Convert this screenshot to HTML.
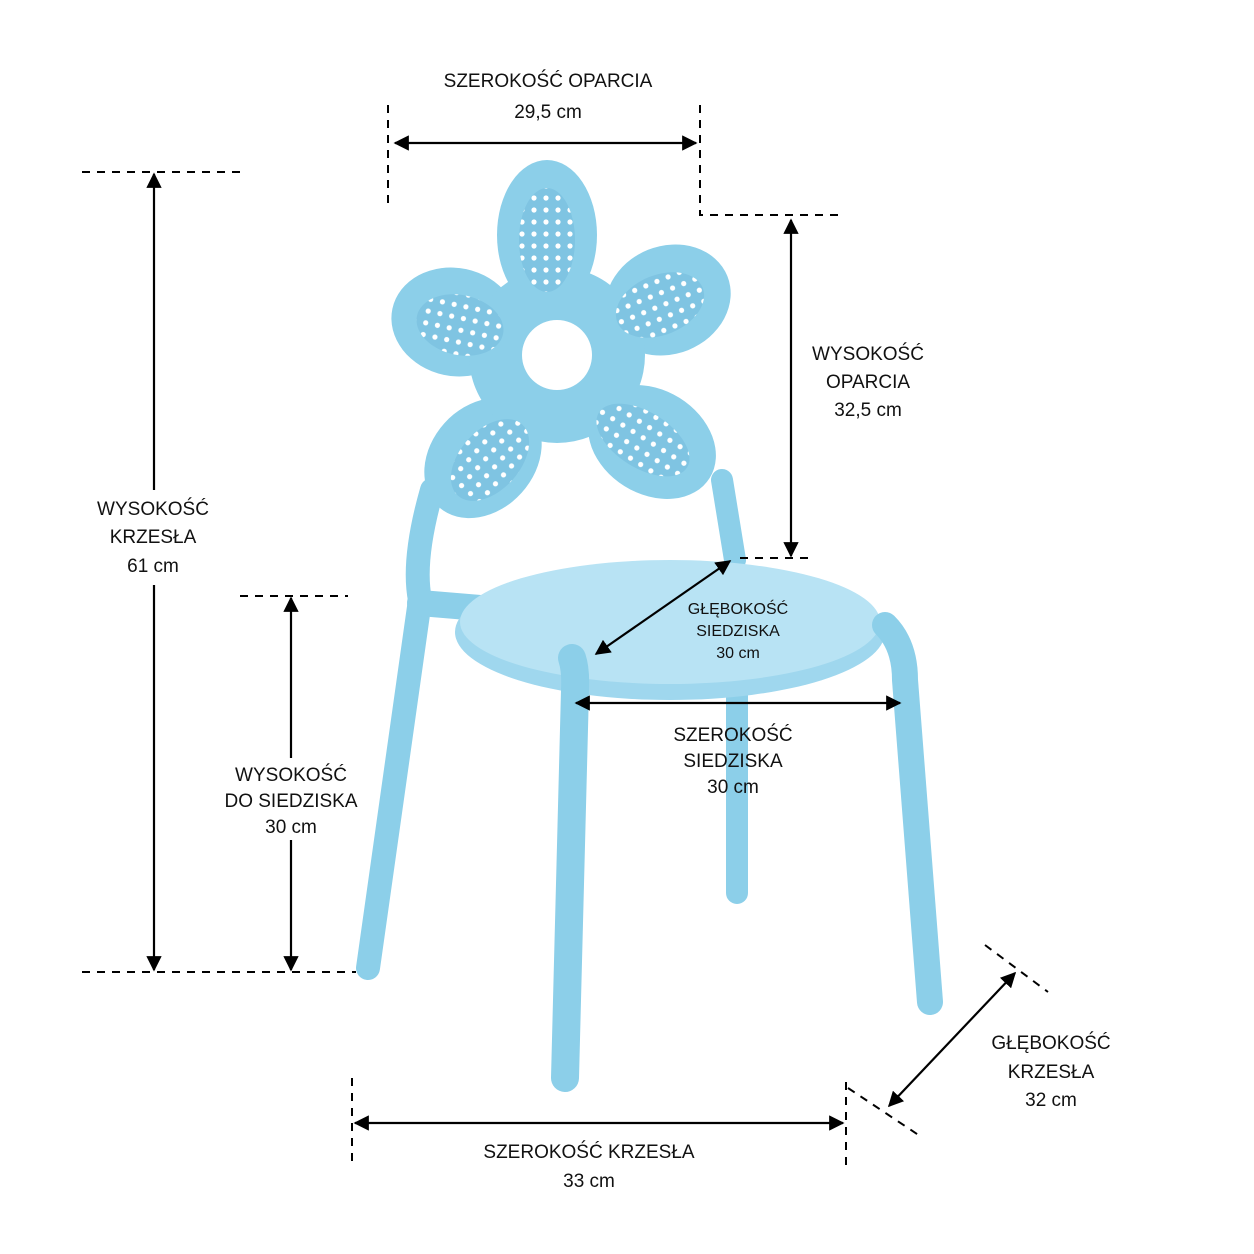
<!DOCTYPE html>
<html><head><meta charset="utf-8"><style>
html,body{margin:0;padding:0;background:#fff}
svg{display:block}
text{font-family:"Liberation Sans","DejaVu Sans",sans-serif;font-size:19px;fill:#111;text-anchor:middle}
.s{font-size:16px}
</style></head><body>
<svg width="1254" height="1254" viewBox="0 0 1254 1254" xmlns="http://www.w3.org/2000/svg">
<defs>
<marker id="a" viewBox="0 0 10 10" refX="9" refY="5" markerWidth="7" markerHeight="7" orient="auto-start-reverse"><path d="M0,0L10,5L0,10z" fill="#000"/></marker>
<pattern id="m" width="12" height="12" patternUnits="userSpaceOnUse"><rect width="12" height="12" fill="#7fc4e2"/><circle cx="6" cy="6" r="2.6" fill="#fff"/></pattern>
</defs>
<g stroke="#8ccfe9" stroke-linecap="round" fill="none">
<path d="M432,490 Q412,560 420,600 L368,968" stroke-width="24"/>
<path d="M722,480 L735,560" stroke-width="22"/>
<path d="M737,690 L737,893" stroke-width="22"/>
<path d="M420,603 L480,608" stroke-width="26"/>
</g>
<ellipse cx="670" cy="632" rx="215" ry="68" fill="#9fd7ee"/>
<ellipse cx="670" cy="622" rx="210" ry="62" fill="#b8e3f4"/>
<g stroke="#8ccfe9" stroke-linecap="round" fill="none">
<path d="M572,658 Q576,670 575,690 L565,1078" stroke-width="28"/>
<path d="M885,625 Q905,645 905,680 L930,1002" stroke-width="26"/>
</g>
<g fill="#8ccfe9">
<ellipse cx="547" cy="235" rx="50" ry="75"/>
<ellipse cx="455" cy="322" rx="64" ry="54" transform="rotate(12 455 322)"/>
<ellipse cx="668" cy="300" rx="64" ry="54" transform="rotate(-22 668 300)"/>
<ellipse cx="483" cy="458" rx="52" ry="66" transform="rotate(42 483 458)"/>
<ellipse cx="652" cy="442" rx="68" ry="52" transform="rotate(32 652 442)"/>
<circle cx="557" cy="355" r="88"/>
</g>
<g fill="url(#m)">
<ellipse cx="547" cy="240" rx="28" ry="52"/>
<ellipse cx="460" cy="325" rx="44" ry="30" transform="rotate(12 460 325)"/>
<ellipse cx="660" cy="305" rx="46" ry="30" transform="rotate(-22 660 305)"/>
<ellipse cx="490" cy="460" rx="30" ry="48" transform="rotate(42 490 460)"/>
<ellipse cx="643" cy="440" rx="52" ry="28" transform="rotate(32 643 440)"/>
</g>
<circle cx="557" cy="355" r="35" fill="#fff"/>
<g stroke="#000" stroke-width="2" stroke-dasharray="8,7" fill="none">
<path d="M388,105V208"/><path d="M700,105V215H845"/>
<path d="M82,172H242"/><path d="M82,972H356"/><path d="M240,596H348"/>
<path d="M740,558H810"/>
<path d="M352,1078V1165"/><path d="M846,1082V1170"/>
<path d="M985,945L1048,992"/><path d="M848,1088L920,1136"/>
</g>
<g stroke="#000" stroke-width="2.2" marker-start="url(#a)" marker-end="url(#a)">
<line x1="395" y1="143" x2="696" y2="143"/>
<line x1="154" y1="174" x2="154" y2="970"/>
<line x1="791" y1="220" x2="791" y2="556"/>
<line x1="291" y1="598" x2="291" y2="970"/>
<line x1="730" y1="561" x2="596" y2="654"/>
<line x1="576" y1="703" x2="900" y2="703"/>
<line x1="355" y1="1123" x2="843" y2="1123"/>
<line x1="1015" y1="973" x2="889" y2="1106"/>
</g>
<rect x="95" y="490" width="118" height="95" fill="#fff"/>
<rect x="230" y="758" width="122" height="82" fill="#fff"/>
<rect x="810" y="335" width="120" height="90" fill="#fff"/>
<text x="548" y="87">SZEROKOŚĆ OPARCIA</text><text x="548" y="118">29,5 cm</text>
<text x="153" y="515">WYSOKOŚĆ</text><text x="153" y="543">KRZESŁA</text><text x="153" y="572">61 cm</text>
<text x="868" y="360">WYSOKOŚĆ</text><text x="868" y="388">OPARCIA</text><text x="868" y="416">32,5 cm</text>
<text x="291" y="781">WYSOKOŚĆ</text><text x="291" y="807">DO SIEDZISKA</text><text x="291" y="833">30 cm</text>
<text class="s" x="738" y="614">GŁĘBOKOŚĆ</text><text class="s" x="738" y="636">SIEDZISKA</text><text class="s" x="738" y="658">30 cm</text>
<text x="733" y="741">SZEROKOŚĆ</text><text x="733" y="767">SIEDZISKA</text><text x="733" y="793">30 cm</text>
<text x="589" y="1158">SZEROKOŚĆ KRZESŁA</text><text x="589" y="1187">33 cm</text>
<text x="1051" y="1049">GŁĘBOKOŚĆ</text><text x="1051" y="1078">KRZESŁA</text><text x="1051" y="1106">32 cm</text>
</svg>
</body></html>
